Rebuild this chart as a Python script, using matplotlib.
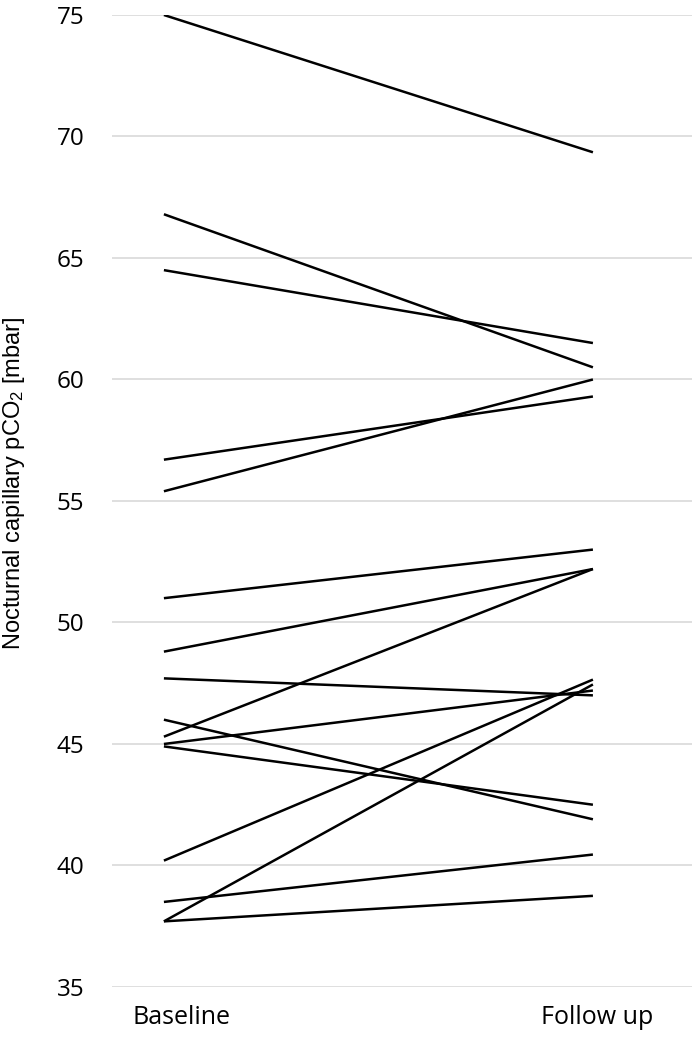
import numpy as np
import matplotlib
matplotlib.use('Agg')
import matplotlib.pyplot as plt

# pCO2 per patient, baseline -> follow up
timepoints = ['Baseline', 'Follow up']
baseline = [75.0, 66.8, 64.5, 56.7, 55.4, 51.0, 48.8, 47.7, 46.0, 45.3, 45.0, 44.9, 40.2, 38.5, 37.7, 37.7]
follow_up = [69.35, 60.5, 61.5, 59.3, 60.0, 53.0, 52.2, 47.0, 41.9, 52.2, 47.2, 42.5, 47.65, 40.45, 47.45, 38.75]
yticks = [35, 40, 45, 50, 55, 60, 65, 70, 75]

plt.rcParams['font.family'] = ['Open Sans', 'DejaVu Sans']
plt.rcParams['mathtext.fontset'] = 'custom'
plt.rcParams['mathtext.rm'] = 'Liberation Sans'
plt.rcParams['mathtext.it'] = 'Liberation Sans'

fig = plt.figure(figsize=(7, 10.41), dpi=100)
ax = fig.add_axes([0.16, 0.0519, 0.8286, 0.9337])

x = [0, 1]
for b, f in zip(baseline, follow_up):
    ax.plot(x, [b, f], color='black', linewidth=1.8, solid_capstyle='butt')

ax.set_xlim(-0.121, 1.231)
ax.set_ylim(35, 75)
ax.set_yticks(yticks)
ax.yaxis.grid(True, color='#d9d9d9', linewidth=1.2)
ax.set_axisbelow(True)
for s in ax.spines.values():
    s.set_visible(False)

ax.set_xticks([0.04, 1.01])
ax.set_xticklabels(timepoints)
ax.tick_params(axis='both', length=0)
ax.tick_params(axis='y', pad=20, labelsize=17.5)
ax.tick_params(axis='x', pad=13, labelsize=18)
ax.set_ylabel(r'Nocturnal capillary pCO$_2$ [mbar]', fontsize=17, family='Liberation Sans')
ax.yaxis.set_label_coords(-0.1466, 0.5185)

fig.savefig('out.png', dpi=100)
